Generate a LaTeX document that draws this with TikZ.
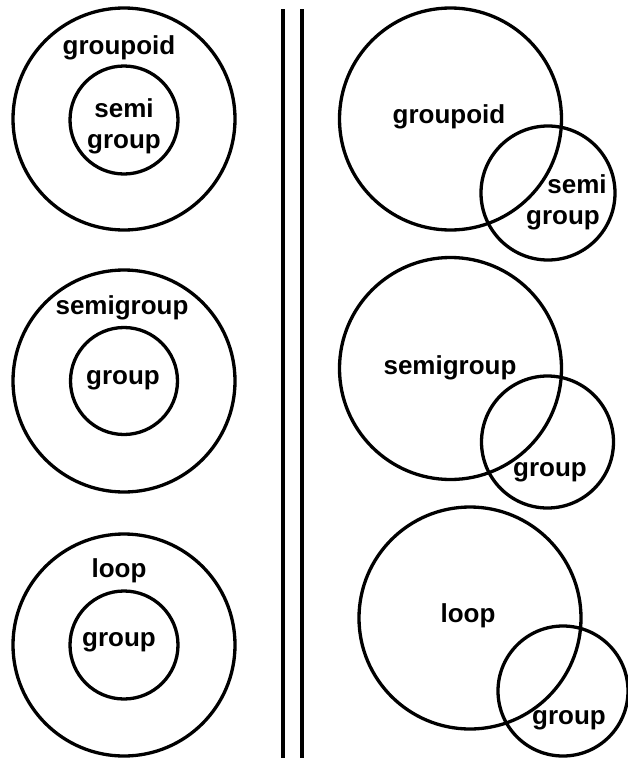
\documentclass[tikz,border=0pt]{standalone}
\usepackage{fontspec}
\setmainfont{Liberation Sans}
\usepackage{tikz}
\tikzset{
  ring/.style={circle, draw=black, line width=3.3pt, inner sep=0pt},
  lbl/.style={font=\fontsize{26}{31}\selectfont\bfseries, align=center, inner sep=0pt},
  sep/.style={draw=black, line width=3.3pt},
}

\begin{document}
\begin{tikzpicture}[x=1pt, y=-1pt]
  \useasboundingbox (0,0) rectangle (628,758);

  % left column: nested circles
  \node[ring, minimum size=222pt] (outA) at (124,119) {};
  \node[ring, minimum size=108pt] (inA) at (124,120) {};
  \node[lbl] (outAlbl) at (119,48) {groupoid};
  \node[lbl] (inAlbl) at (124,126) {semi\\group};

  \node[ring, minimum size=222pt] (outB) at (124,381) {};
  \node[ring, minimum size=107pt] (inB) at (124,381) {};
  \node[lbl] (outBlbl) at (122,308) {semigroup};
  \node[lbl] (inBlbl) at (123,380) {group};

  \node[ring, minimum size=222pt] (outC) at (124,645) {};
  \node[ring, minimum size=108pt] (inC) at (124,645) {};
  \node[lbl] (outClbl) at (119,571) {loop};
  \node[lbl] (inClbl) at (119,642) {group};

  % double separator
  \coordinate (sepLtop) at (283,9);
  \coordinate (sepLbot) at (283,758);
  \coordinate (sepRtop) at (302,9);
  \coordinate (sepRbot) at (302,758);
  \draw[sep] (sepLtop) -- (sepLbot);
  \draw[sep] (sepRtop) -- (sepRbot);

  % right column: overlapping circles
  \node[ring, minimum size=222pt] (bigA) at (450.5,119) {};
  \node[ring, minimum size=134pt] (smA) at (548,193) {};
  \node[lbl] (bigAlbl) at (449,117) {groupoid};
  \node[lbl] (smAlbl) at (563,202) {\hspace*{28pt}semi\\group};

  \node[ring, minimum size=222pt] (bigB) at (450.5,368.5) {};
  \node[ring, minimum size=132pt] (smB) at (547.5,442) {};
  \node[lbl] (bigBlbl) at (450,368) {semigroup};
  \node[lbl] (smBlbl) at (550,472) {group};

  \node[ring, minimum size=222pt] (bigC) at (470,618) {};
  \node[ring, minimum size=130pt] (smC) at (563,691) {};
  \node[lbl] (bigClbl) at (468,616) {loop};
  \node[lbl] (smClbl) at (569,720) {group};
\end{tikzpicture}
\end{document}
